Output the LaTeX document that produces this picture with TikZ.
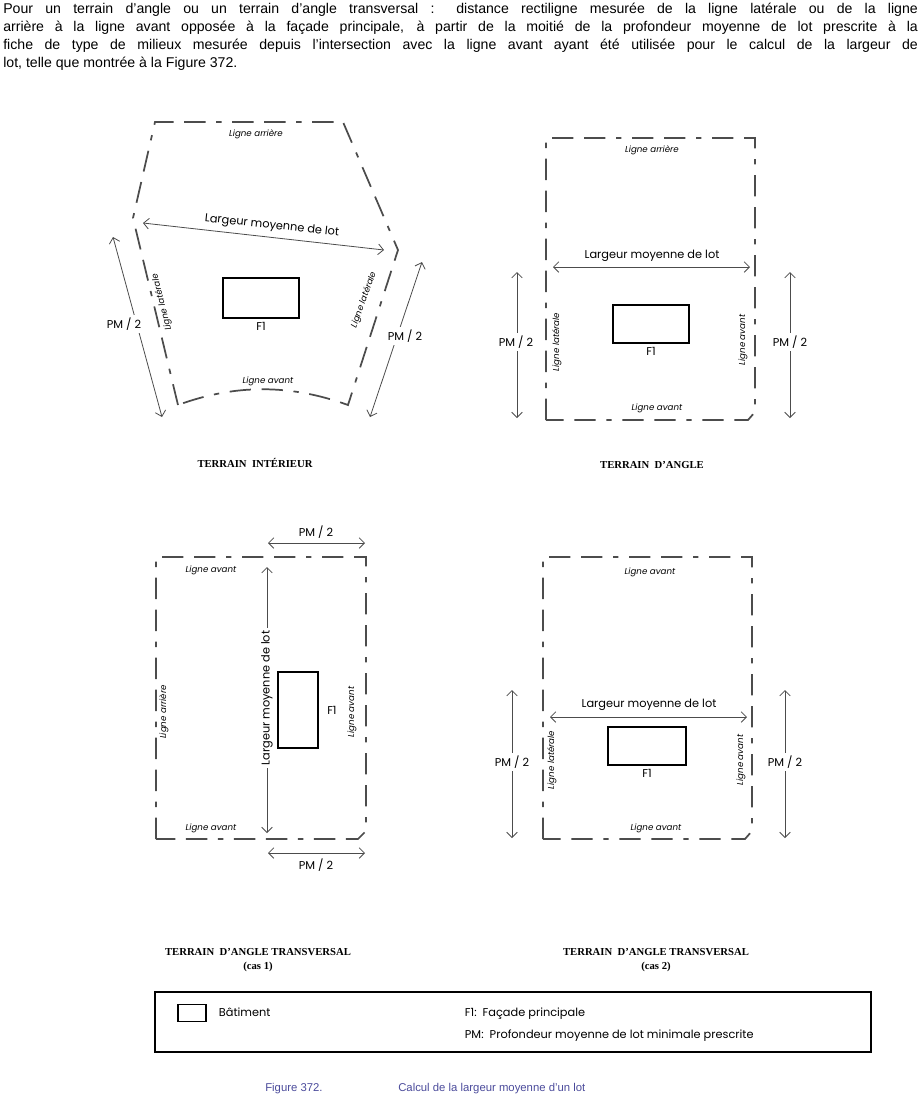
\documentclass[tikz,border=0pt]{standalone}
\usepackage{fontspec}
\usetikzlibrary{arrows.meta,positioning}
\setmainfont{Liberation Sans}
\newfontfamily\gothic{Poppins}
\newfontfamily\titlef{Liberation Serif}
\begin{document}
\begin{tikzpicture}[x=0.75pt,y=-0.75pt,
  lot/.style={draw=black!70,line width=1.3pt,dash pattern=on 16pt off 8pt on 4pt off 8pt on 16pt off 8pt},
  dim/.style={draw=black!70,line width=0.6pt,{Straight Barb[length=4pt]}-{Straight Barb[length=4pt]}},
  bld/.style={draw=black,line width=1.5pt},
  lab/.style={font=\gothic\itshape\fontsize{6.5}{7}\selectfont,inner sep=1pt},
  dlab/.style={font=\gothic\fontsize{8.5}{9}\selectfont,inner sep=2pt},
  wl/.style={dlab,fill=white},
  ttl/.style={font=\titlef\bfseries\fontsize{8}{11}\selectfont,align=center}]
\useasboundingbox (0,0) rectangle (921,1108);
\node[anchor=north west,text width=686pt,align=justify,inner sep=0pt,font=\fontsize{10.6}{13.5}\selectfont] (para) at (3,3)
{Pour un terrain d’angle ou un terrain d’angle transversal : distance rectiligne mesurée de la ligne latérale ou de la ligne\linebreak arrière à la ligne avant opposée à la façade principale, à partir de la moitié de la profondeur moyenne de lot prescrite à la\linebreak fiche de type de milieux mesurée depuis l’intersection avec la ligne avant ayant été utilisée pour le calcul de la largeur de\linebreak lot, telle que montrée à la Figure 372.};

% ---------- Terrain intérieur
\draw[lot] (178,405) -- (133,218) -- (155,122) -- (343,122) -- (398,250) -- (348,405) .. controls (290,384) and (235,384) .. (178,405);
\coordinate (a1) at (143,223); \coordinate (a2) at (384,250);
\draw[dim] (a1) -- (a2);
\node[dlab,rotate=-6] (t1) at (272,226) {Largeur moyenne de lot};
\node[bld,minimum width=57pt,minimum height=30pt,inner sep=0pt] (f1a) at (261,298) {};
\node[dlab,below=0pt of f1a] (f1al) {F1};
\coordinate (p1) at (113,237); \coordinate (p2) at (162,417);
\draw[dim] (p1) -- (p2);
\node[wl] (pm1) at (124,324) {PM / 2};
\coordinate (p3) at (422,262); \coordinate (p4) at (370,417);
\draw[dim] (p3) -- (p4);
\node[wl] (pm2) at (405,336) {PM / 2};
\node[lab] (l1) at (256,134) {Ligne arrière};
\node[lab,rotate=104] (l2) at (162,302) {Ligne latérale};
\node[lab,rotate=70] (l3) at (364,300) {Ligne latérale};
\node[lab] (l4) at (268,381) {Ligne avant};
\node[ttl] (tt1) at (255,463) {TERRAIN\ \ INTÉRIEUR};

% ---------- Terrain d'angle
\draw[lot] (546,420) -- (546,138) -- (755,138) -- (755,412) -- (748,420) -- cycle;
\coordinate (b1) at (553,267); \coordinate (b2) at (750,267);
\draw[dim] (b1) -- (b2);
\node[dlab] (t2) at (652,256) {Largeur moyenne de lot};
\node[bld,minimum width=57pt,minimum height=29pt,inner sep=0pt] (f1b) at (651,324) {};
\node[dlab,below=0pt of f1b] (f1bl) {F1};
\coordinate (q1) at (517,272); \coordinate (q2) at (517,418);
\draw[dim] (q1) -- (q2);
\node[wl] (pm3) at (516,342) {PM / 2};
\coordinate (q3) at (790,272); \coordinate (q4) at (790,418);
\draw[dim] (q3) -- (q4);
\node[wl] (pm4) at (790,342) {PM / 2};
\node[lab] (m1) at (652,150) {Ligne arrière};
\node[lab,rotate=90] (m2) at (557,342) {Ligne latérale};
\node[lab,rotate=90] (m3) at (743,340) {Ligne avant};
\node[lab] (m4) at (657,408) {Ligne avant};
\node[ttl] (tt2) at (652,465) {TERRAIN\ \ D’ANGLE};

% ---------- Transversal cas 1
\draw[lot] (156,839) -- (156,557) -- (366,557) -- (366,831) -- (358,839) -- cycle;
\coordinate (c1) at (268,543); \coordinate (c2) at (365,543);
\draw[dim] (c1) -- (c2);
\node[dlab] (pm5) at (316,532) {PM / 2};
\coordinate (c3) at (268,853); \coordinate (c4) at (365,853);
\draw[dim] (c3) -- (c4);
\node[dlab] (pm6) at (316,865) {PM / 2};
\coordinate (c5) at (267,567); \coordinate (c6) at (267,833);
\draw[dim] (c5) -- (c6);
\node[wl,rotate=90] (t3) at (267,698) {Largeur moyenne de lot};
\node[bld,minimum width=30pt,minimum height=57pt,inner sep=0pt] (f1c) at (298,710) {};
\node[dlab,right=4pt of f1c] (f1cl) {F1};
\node[lab] (n1) at (211,570) {Ligne avant};
\node[lab] (n2) at (211,828) {Ligne avant};
\node[lab,rotate=90] (n3) at (164,712) {Ligne arrière};
\node[lab,rotate=90] (n4) at (352,712) {Ligne avant};
\node[ttl] (tt3) at (258,960) {TERRAIN\ \ D’ANGLE TRANSVERSAL\\(cas 1)};

% ---------- Transversal cas 2
\draw[lot] (543,839) -- (543,557) -- (752,557) -- (752,831) -- (745,839) -- cycle;
\coordinate (d1) at (550,717); \coordinate (d2) at (747,717);
\draw[dim] (d1) -- (d2);
\node[dlab] (t4) at (649,705) {Largeur moyenne de lot};
\node[bld,minimum width=58pt,minimum height=29pt,inner sep=0pt] (f1d) at (647,746) {};
\node[dlab,below=0pt of f1d] (f1dl) {F1};
\coordinate (r1) at (512,690); \coordinate (r2) at (512,838);
\draw[dim] (r1) -- (r2);
\node[wl] (pm7) at (512,762) {PM / 2};
\coordinate (r3) at (785,690); \coordinate (r4) at (785,838);
\draw[dim] (r3) -- (r4);
\node[wl] (pm8) at (785,762) {PM / 2};
\node[lab] (o1) at (650,572) {Ligne avant};
\node[lab,rotate=90] (o2) at (552,760) {Ligne latérale};
\node[lab,rotate=90] (o3) at (741,760) {Ligne avant};
\node[lab] (o4) at (656,828) {Ligne avant};
\node[ttl] (tt4) at (656,960) {TERRAIN\ \ D’ANGLE TRANSVERSAL\\(cas 2)};

% ---------- Legend
\node[draw=black,line width=1.2pt,minimum width=537pt,minimum height=45pt,inner sep=0pt] (leg) at (513,1022) {};
\node[draw=black,line width=1.2pt,minimum width=21pt,minimum height=13pt,inner sep=0pt] (legb) at (192,1013) {};
\node[dlab,anchor=west] (legt) at (216,1012) {Bâtiment};
\node[dlab,anchor=west] (legf) at (462,1014) {F1:\ \ Façade principale};
\node[dlab,anchor=west] (legp) at (462,1036) {PM:\ \ Profondeur moyenne de lot minimale prescrite};

\node[anchor=west,font=\fontsize{8.5}{10}\selectfont,text=blue!35!gray!90!black,inner sep=0pt] (cap1) at (265,1089) {Figure 372.};
\node[anchor=west,font=\fontsize{8.5}{10}\selectfont,text=blue!35!gray!90!black,inner sep=0pt] (cap2) at (398,1089) {Calcul de la largeur moyenne d’un lot};
\end{tikzpicture}
\end{document}
